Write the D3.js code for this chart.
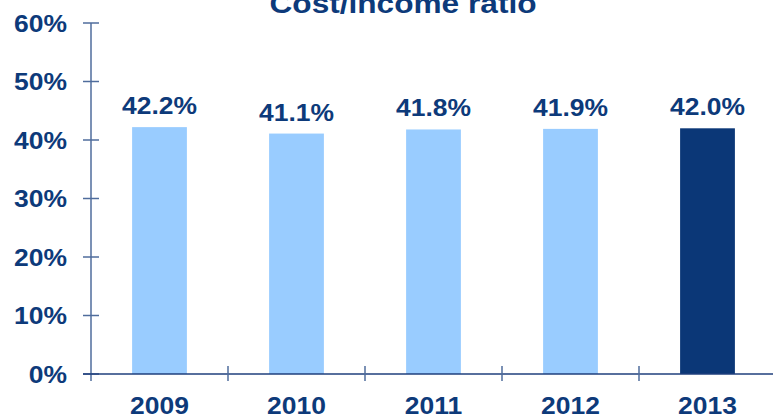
<!DOCTYPE html>
<html>
<head>
<meta charset="utf-8">
<script src="https://cdn.jsdelivr.net/npm/d3@7"></script>
<style>
  html, body { margin: 0; padding: 0; background: #fff; }
  svg { display: block; font-family: Arial, "Liberation Sans", sans-serif; font-weight: bold; }
</style>
</head>
<body>
<svg id="chart" width="773" height="418"></svg>
<script>
// Cost/income ratio chart

const years = ["2009", "2010", "2011", "2012", "2013"];
const ratios = [42.2, 41.1, 41.8, 41.9, 42.0];
const yTicks = [0, 10, 20, 30, 40, 50, 60];
const title = "Cost/income ratio";

const navy = "#0d3a7a";
const lightBar = "#99ccff";
const darkBar = "#0b3777";
const stretch = 1.15; // text in the source is horizontally stretched

const svg = d3.select("#chart");

const x = d3.scaleBand()
    .domain(years)
    .range([91, 776])
    .paddingInner(0.6)
    .paddingOuter(0.3);

const y = d3.scaleLinear()
    .domain([0, 60])
    .range([374, 23]);

// helper for stretched text
function stretchedText(g, tx, ty, size, anchor, str) {
    return g.append("text")
        .attr("transform", `translate(${tx},${ty}) scale(${stretch},1)`)
        .attr("font-size", size + "px")
        .attr("text-anchor", anchor)
        .attr("fill", navy)
        .text(str);
}

// bars
svg.selectAll(".bar")
    .data(ratios)
    .enter()
    .append("rect")
    .attr("class", "bar")
    .attr("x", (d, i) => x(years[i]))
    .attr("y", d => y(d))
    .attr("width", x.bandwidth())
    .attr("height", d => y(0) - y(d))
    .attr("fill", (d, i) => i === years.length - 1 ? darkBar : lightBar);

// y axis
svg.append("line")
    .attr("x1", 91).attr("x2", 91)
    .attr("y1", y(60)).attr("y2", y(0) + 7)
    .attr("stroke", "#4f6c9c")
    .attr("stroke-width", 1.5);

yTicks.forEach(t => {
    svg.append("line")
        .attr("x1", 83).attr("x2", 99)
        .attr("y1", y(t)).attr("y2", y(t))
        .attr("stroke", "#4f6c9c")
        .attr("stroke-width", 1.5);
    stretchedText(svg, 67, y(t) + 8.5, 23, "end", t + "%");
});

// x axis
svg.append("line")
    .attr("x1", 83).attr("x2", 773)
    .attr("y1", y(0)).attr("y2", y(0))
    .attr("stroke", "#1f3f7c")
    .attr("stroke-width", 1.5);

const step = x.step();
d3.range(years.length).forEach(i => {
    const bx = 91 + step * (i + 1);
    svg.append("line")
        .attr("x1", bx).attr("x2", bx)
        .attr("y1", y(0) - 8).attr("y2", y(0) + 7)
        .attr("stroke", "#4f6c9c")
        .attr("stroke-width", 1.5);
});

// year labels
years.forEach(yr => {
    stretchedText(svg, x(yr) + x.bandwidth() / 2, 413.5, 23, "middle", yr);
});

// value labels
ratios.forEach((v, i) => {
    stretchedText(svg, x(years[i]) + x.bandwidth() / 2, y(v) - 13, 23, "middle", v.toFixed(1) + "%");
});

// title
stretchedText(svg, 403, 13, 27.5, "middle", title);
</script>
</body>
</html>
